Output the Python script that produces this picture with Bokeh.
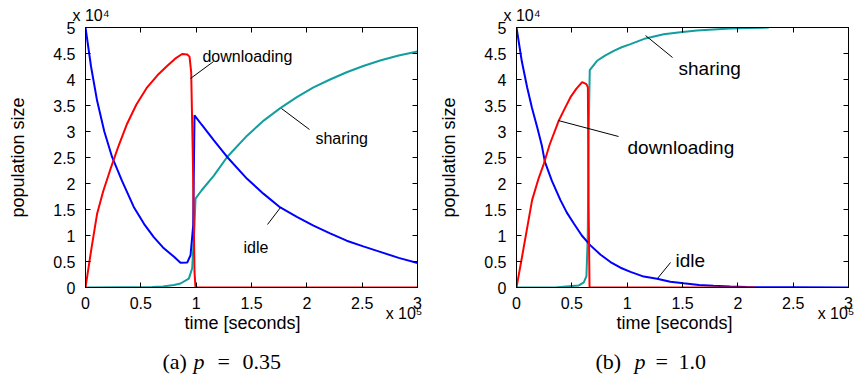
from bokeh.plotting import figure
from bokeh.layouts import row, column
from bokeh.models import (Range1d, LinearAxis, FixedTicker, CustomJSTickFormatter, Label,
                          Title)
from bokeh.embed import file_html
from bokeh.resources import INLINE

# ---------------- data (time in 1e5 s, population in 1e4) ----------------
x_ticks = [0, 0.5, 1, 1.5, 2, 2.5, 3]
x_tick_labels = ["0", "0.5", "1", "1.5", "2", "2.5", "3"]
y_ticks = [0, 0.5, 1, 1.5, 2, 2.5, 3, 3.5, 4, 4.5, 5]
y_tick_labels = ["0", "0.5", "1", "1.5", "2", "2.5", "3", "3.5", "4", "4.5", "5"]
x_exponent = "x 10\u2075"
y_exponent = "x 10\u2074"

# (a) p = 0.35
a_idle_t = [0, 0.05, 0.105, 0.17, 0.24, 0.33, 0.436, 0.53, 0.617, 0.70, 0.80, 0.858, 0.919,
            0.949, 0.973, 0.985, 1.05, 1.16, 1.28, 1.46, 1.61, 1.76, 1.91, 2.06, 2.21, 2.36,
            2.51, 2.67, 2.83, 3.0]
a_idle = [5.0, 4.25, 3.59, 3.0, 2.51, 2.05, 1.55, 1.22, 0.97, 0.77, 0.59, 0.475, 0.48,
          0.62, 1.19, 3.31, 3.13, 2.83, 2.51, 2.09, 1.80, 1.54, 1.36, 1.19, 1.04, 0.90,
          0.79, 0.68, 0.57, 0.47]
a_down_t = [0, 0.05, 0.105, 0.16, 0.226, 0.30, 0.376, 0.46, 0.557, 0.65, 0.737, 0.81, 0.873,
            0.92, 0.94, 0.955, 0.97, 0.985, 0.994, 3.0]
a_down = [0, 0.70, 1.42, 1.85, 2.28, 2.73, 3.15, 3.52, 3.85, 4.08, 4.26, 4.40, 4.49,
          4.48, 4.44, 4.14, 2.5, 0.3, 0, 0]
a_share_t = [0, 0.6, 0.7, 0.8, 0.858, 0.934, 0.964, 0.985, 0.994, 1.05, 1.16, 1.28, 1.46,
             1.61, 1.76, 1.91, 2.06, 2.21, 2.36, 2.51, 2.67, 2.83, 3.0]
a_share = [0, 0.01, 0.02, 0.05, 0.077, 0.17, 0.37, 1.19, 1.71, 1.87, 2.15, 2.51, 2.92,
           3.21, 3.45, 3.66, 3.85, 4.00, 4.14, 4.26, 4.37, 4.46, 4.54]

# (b) p = 1.0
b_idle_t = [0, 0.048, 0.096, 0.14, 0.187, 0.23, 0.256, 0.32, 0.397, 0.455, 0.518, 0.59, 0.668,
            0.76, 0.849, 0.94, 1.03, 1.15, 1.27, 1.39, 1.51, 1.65, 1.78, 1.93, 2.08, 2.3,
            2.5, 3.0]
b_idle = [5.0, 4.35, 3.85, 3.45, 3.08, 2.72, 2.42, 2.05, 1.68, 1.44, 1.23, 1.0, 0.81,
          0.63, 0.49, 0.38, 0.30, 0.21, 0.17, 0.11, 0.08, 0.05, 0.035, 0.02, 0.01, 0.005,
          0.003, 0]
b_down_t = [0, 0.066, 0.141, 0.2, 0.247, 0.3, 0.382, 0.44, 0.488, 0.54, 0.593, 0.632, 0.645,
            0.652, 0.66, 2.16]
b_down = [0, 0.78, 1.68, 2.1, 2.38, 2.75, 3.21, 3.46, 3.66, 3.82, 3.95, 3.91, 3.85,
          1.5, 0, 0]
b_share_t = [0, 0.35, 0.45, 0.563, 0.608, 0.632, 0.644, 0.652, 0.662, 0.728, 0.8, 0.879,
             0.95, 1.03, 1.166, 1.33, 1.48, 1.63, 1.78, 1.93, 2.1, 2.28]
b_share = [0, 0, 0.02, 0.04, 0.1, 0.22, 1.0, 3.0, 4.18, 4.36, 4.46, 4.55,
           4.62, 4.68, 4.79, 4.87, 4.91, 4.94, 4.96, 4.98, 4.99, 5.0]

BLUE = "#0000ff"
RED = "#ff0000"
TEAL = "#129e9e"
SANS = "Liberation Sans"
SERIF = "Liberation Serif"


def tick_formatter(tv, lv):
    return CustomJSTickFormatter(
        args=dict(tv=tv, lv=lv),
        code="const i = tv.findIndex(t => Math.abs(t - tick) < 1e-9); return i >= 0 ? lv[i] : '';")


def style_axis(ax, show_labels, standoff):
    ax.axis_line_color = "black"
    ax.axis_line_width = 1
    ax.major_tick_line_color = "black"
    ax.major_tick_in = 5
    ax.major_tick_out = 0
    ax.minor_tick_line_color = None
    ax.major_label_text_font = SANS
    if show_labels:
        ax.major_label_text_color = "black"
        ax.major_label_text_font_size = "16px"
        ax.major_label_standoff = standoff
    else:
        ax.major_label_text_color = None
        ax.major_label_text_font_size = "1px"
        ax.major_label_standoff = 0


def text_label(p, text, x, y, size, font=SANS, style="normal"):
    p.add_layout(Label(x=x, y=y, text=text, text_font=font, text_font_size=size,
                       text_font_style=style, text_baseline="alphabetic",
                       text_align="left", text_color="black"))


def title(text, align, offset, standoff, size):
    return Title(text=text, align=align, offset=offset, standoff=standoff,
                 text_font=SANS, text_font_size=size, text_font_style="normal",
                 text_color="black")


def panel(left_border, right_border, series, notes, leaders, note_size,
          off_e4, off_e5, off_time):
    p = figure(frame_width=332, frame_height=260, output_backend="svg", toolbar_location=None,
               x_range=Range1d(0, 3), y_range=Range1d(0, 5),
               min_border_left=left_border, min_border_right=right_border,
               min_border_top=27, min_border_bottom=58,
               x_axis_location=None, y_axis_location=None)
    p.background_fill_color = "white"
    p.border_fill_color = "white"
    p.outline_line_color = "black"
    p.outline_line_width = 1
    p.grid.visible = False

    xt = FixedTicker(ticks=x_ticks)
    yt = FixedTicker(ticks=y_ticks)
    bottom = LinearAxis(ticker=xt, formatter=tick_formatter(x_ticks, x_tick_labels))
    left = LinearAxis(ticker=yt, formatter=tick_formatter(y_ticks, y_tick_labels))
    top = LinearAxis(ticker=xt, formatter=tick_formatter(x_ticks, x_tick_labels))
    right = LinearAxis(ticker=yt, formatter=tick_formatter(y_ticks, y_tick_labels))
    style_axis(bottom, True, 9)
    style_axis(left, True, 10)
    style_axis(top, False, 0)
    style_axis(right, False, 0)
    left.axis_label = "population size"
    left.axis_label_text_font = SANS
    left.axis_label_text_font_size = "18px"
    left.axis_label_text_font_style = "normal"
    left.axis_label_text_color = "black"
    left.axis_label_standoff = 22
    p.add_layout(bottom, "below")
    p.add_layout(left, "left")
    p.add_layout(top, "above")
    p.add_layout(right, "right")

    # exponent / axis title texts in the side panels
    p.add_layout(title(y_exponent, "left", off_e4, 7, "16px"), "above")
    p.add_layout(title(x_exponent, "right", off_e5, -18, "16px"), "below")
    p.add_layout(title("time [seconds]", "left", off_time, -3, "18px"), "below")

    for (t, v, c) in series:
        p.line(t, v, line_color=c, line_width=2)

    for (x0, y0, x1, y1) in leaders:
        p.segment(x0=[x0], y0=[y0], x1=[x1], y1=[y1], line_color="black", line_width=1)

    for (text, x, y) in notes:
        text_label(p, text, x, y, note_size)
    return p


def caption(left_border, right_border, parts):
    # text-only strip below each panel; its frame lines up with the panel's frame,
    # and its coordinates are pixels measured from the strip's left edge
    c = figure(frame_width=332, frame_height=29, output_backend="svg", toolbar_location=None,
               x_range=Range1d(left_border, left_border + 332), y_range=Range1d(0, 29),
               min_border_left=left_border, min_border_right=right_border,
               min_border_top=0, min_border_bottom=0,
               x_axis_location=None, y_axis_location=None)
    c.outline_line_color = None
    c.grid.visible = False
    c.background_fill_color = "white"
    c.border_fill_color = "white"
    for (text, x, style) in parts:
        text_label(c, text, x, 13, "22px", font=SERIF, style=style)
    return c


p1 = panel(85, 19,
           [(a_share_t, a_share, TEAL), (a_idle_t, a_idle, BLUE), (a_down_t, a_down, RED)],
           [("downloading", 1.057, 4.44), ("sharing", 2.078, 2.865), ("idle", 1.428, 0.77)],
           [(1.157, 4.346, 0.949, 4.019), (1.771, 3.442, 2.024, 3.038), (1.762, 1.538, 1.645, 1.212)],
           "16px", -13, -5, 99)
p2 = panel(80, 8,
           [(b_share_t, b_share, TEAL), (b_idle_t, b_idle, BLUE), (b_down_t, b_down, RED)],
           [("sharing", 1.464, 4.21), ("downloading", 1.003, 2.69), ("idle", 1.437, 0.52)],
           [(1.166, 4.846, 1.41, 4.423), (0.3795, 3.21, 0.922, 2.904), (1.274, 0.173, 1.392, 0.481)],
           "19px", -13, -6, 100)

c1 = caption(85, 19, [("(a)", 162, "normal"), ("p", 193, "italic"), ("=", 217, "normal"),
                      ("0.35", 242, "normal")])
c2 = caption(80, 8, [("(b)", 159, "normal"), ("p", 198, "italic"), ("=", 219, "normal"),
                     ("1.0", 242, "normal")])

layout = row(column(p1, c1), column(p2, c2))
open("out.html", "w").write(file_html(layout, INLINE))
